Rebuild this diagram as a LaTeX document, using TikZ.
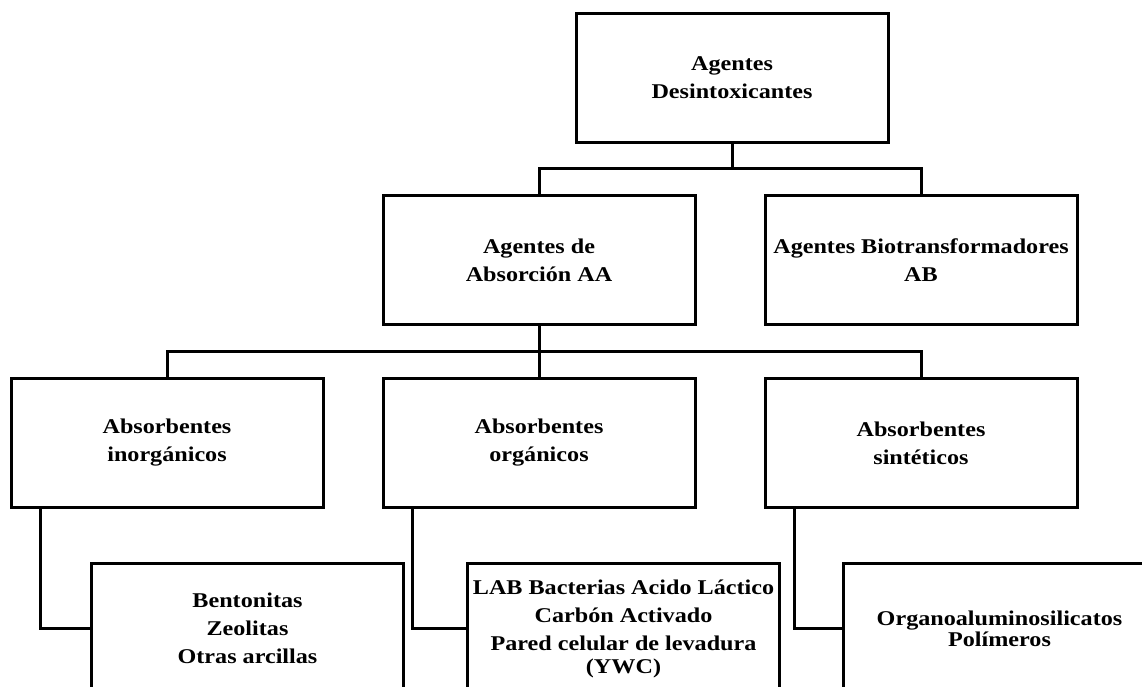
\documentclass[tikz,border=0pt]{standalone}
\usepackage{fontspec}
\newfontfamily\boxfont{Liberation Serif}[FakeStretch=1.15]

\begin{document}
\begin{tikzpicture}[
	x=1pt, y=-1pt,
	box/.style={draw, line width=3pt, minimum width=312pt, minimum height=129pt,
		inner sep=0pt, align=center, font=\boxfont\bfseries\fontsize{21}{28}\selectfont},
	leaf/.style={box, minimum height=130pt, anchor=north west},
	link/.style={line width=3pt}]

	\def\branchA{168}% junction below the root
	\def\branchB{351}% junction below the absorption agents
	\def\stub{31}% offset of the side connectors

	\useasboundingbox (0,0) rectangle (1142,686);
	\clip (0,0) rectangle (1142,686);

	\coordinate (hA) at (0,\branchA);
	\coordinate (hB) at (0,\branchB);

	\node [box] (AD) at (732,77.5) {Agentes\\Desintoxicantes};

	\node [box] (AA) at (539,260) {Agentes de\\Absorción AA};
	\node [box] (AB) at (921,260) {Agentes Biotransformadores\\AB};

	\node [box] (AI) at (167,443) {Absorbentes\\inorgánicos};
	\node [box] (AO) at (539,443) {Absorbentes\\orgánicos};
	\node [box] (AS) at (921,443) {Absorbentes\\sintéticos};

	\node [leaf] (BI) at (90,562) {Bentonitas\\Zeolitas\\Otras arcillas};
	\node [leaf] (BO) at (466,562) {LAB Bacterias Acido Láctico\\Carbón Activado\\Pared celular de levadura\\[-5pt](YWC)};
	\node [leaf, font={\boxfont\bfseries\fontsize{21}{21}\selectfont}] (BS) at (842,562) {Organoaluminosilicatos\\Polímeros};

	% first level
	\draw [link] (AD.south) -- (AD.south |- hA);
	\draw [link] (AA.north) |- (AB.north |- hA) -- (AB.north);

	% second level
	\draw [link] (AA.south) -- (AA.south |- hB);
	\draw [link] (AI.north) |- (AS.north |- hB) -- (AS.north);
	\draw [link] (AO.north) -- (AO.north |- hB);

	% side connectors to the lists
	\draw [link] ([xshift=\stub pt]AI.south west) |- (BI.west);
	\draw [link] ([xshift=\stub pt]AO.south west) |- (BO.west);
	\draw [link] ([xshift=\stub pt]AS.south west) |- (BS.west);

\end{tikzpicture}
\end{document}
